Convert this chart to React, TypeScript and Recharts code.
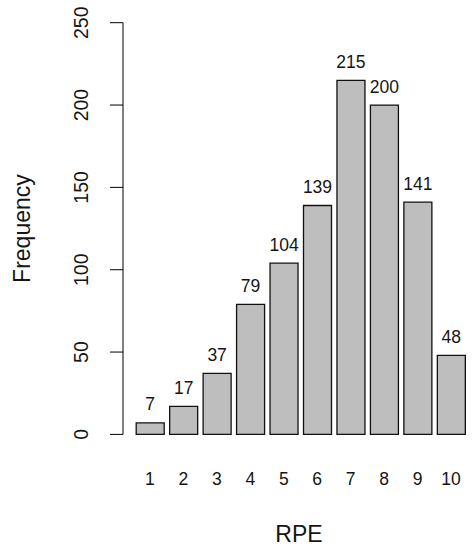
import React from 'react';
import { BarChart, Bar, XAxis, YAxis, LabelList, Label } from 'recharts';

const categories = ['1', '2', '3', '4', '5', '6', '7', '8', '9', '10'];
const frequency = [7, 17, 37, 79, 104, 139, 215, 200, 141, 48];
const yTicks = [0, 50, 100, 150, 200, 250];

const data = categories.map((c, i) => ({ rpe: c, freq: frequency[i] }));

const FONT = '"Liberation Sans", Arial, Helvetica, sans-serif';
const TEXT = '#151515';

const YTick = (props: any) => {
  const { x, y, payload } = props;
  const bx = x - 20;
  return (
    <text
      x={bx}
      y={y}
      transform={`rotate(-90, ${bx}, ${y})`}
      textAnchor="middle"
      fontSize={19.5}
      fontFamily={FONT}
      fill={TEXT}
    >
      {payload.value}
    </text>
  );
};

const XTick = (props: any) => {
  const { x, y, payload } = props;
  return (
    <text x={x} y={y + 43} textAnchor="middle" fontSize={17.5} fontFamily={FONT} fill={TEXT}>
      {payload.value}
    </text>
  );
};

const BarLabel = (props: any) => {
  const { x, y, width, value } = props;
  return (
    <text
      x={x + width / 2}
      y={y - 12.5}
      textAnchor="middle"
      fontSize={17.5}
      fontFamily={FONT}
      fill={TEXT}
    >
      {value}
    </text>
  );
};

const YTitle = (props: any) => {
  const { viewBox } = props;
  const bx = viewBox.x + 30;
  const cy = viewBox.y + viewBox.height / 2;
  return (
    <text
      x={bx}
      y={cy}
      transform={`rotate(-90, ${bx}, ${cy})`}
      textAnchor="middle"
      fontSize={23}
      fontFamily={FONT}
      fill={TEXT}
    >
      Frequency
    </text>
  );
};

export default function App() {
  return (
    <div style={{ position: 'absolute', left: 0, top: 0, background: '#fff' }}>
      <BarChart
        width={475}
        height={550}
        data={data}
        margin={{ top: 22.7, right: 0, bottom: 0, left: 0 }}
      >
        <XAxis
          dataKey="rpe"
          height={115.6}
          axisLine={false}
          tickLine={false}
          tick={<XTick />}
          padding={{ left: 10.2, right: 7.2 }}
          interval={0}
        >
          <Label
            value="RPE"
            position="insideBottom"
            offset={7.7}
            fontSize={23}
            fontFamily={FONT}
            fill={TEXT}
          />
        </XAxis>
        <YAxis
          width={123}
          domain={[0, 250]}
          ticks={yTicks}
          interval={0}
          tickSize={13}
          tickMargin={2}
          axisLine={{ stroke: '#000', strokeWidth: 1 }}
          tickLine={{ stroke: '#000', strokeWidth: 1 }}
          tick={<YTick />}
        >
          <Label content={<YTitle />} />
        </YAxis>
        <Bar
          dataKey="freq"
          barSize={28}
          fill="#BEBEBE"
          stroke="#111"
          strokeWidth={1.3}
          isAnimationActive={false}
        >
          <LabelList dataKey="freq" content={<BarLabel />} />
        </Bar>
      </BarChart>
    </div>
  );
}
